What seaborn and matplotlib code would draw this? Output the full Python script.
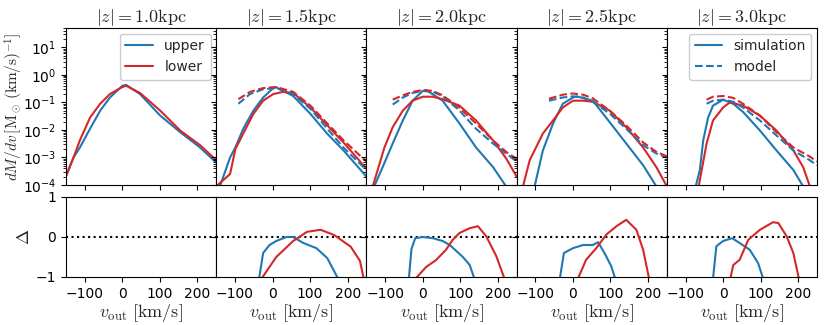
import matplotlib
matplotlib.use("Agg")
import matplotlib.pyplot as plt
import seaborn as sns

# ---------------- data ----------------
titles = [r"$|z| = 1.0{\rm kpc}$", r"$|z| = 1.5{\rm kpc}$", r"$|z| = 2.0{\rm kpc}$",
          r"$|z| = 2.5{\rm kpc}$", r"$|z| = 3.0{\rm kpc}$"]

# |z| = 1.0 kpc
z10_up_v = [-152, -130, -113, -86, -59, -33, 0, 10, 47, 101, 154, 207, 250]
z10_up_y = [1.8e-4, 1.0e-3, 2.3e-3, 1.1e-2, 5.0e-2, 1.5e-1, 4.0e-1, 4.3e-1, 2.0e-1, 3.3e-2, 8.3e-3, 2.3e-3, 6.5e-4]
z10_lo_v = [-152, -130, -113, -86, -59, -33, 0, 10, 47, 101, 154, 207, 250]
z10_lo_y = [1.8e-4, 1.0e-3, 4.2e-3, 2.8e-2, 8.9e-2, 2.0e-1, 3.6e-1, 4.0e-1, 2.2e-1, 5.0e-2, 9.5e-3, 2.8e-3, 8.0e-4]

# |z| = 1.5 kpc
z15_up_v = [-140, -113, -99, -78, -51, -25, 2, 10, 55, 101, 146, 189, 242, 250]
z15_up_y = [9e-5, 1.0e-3, 2.3e-3, 1.1e-2, 5.0e-2, 1.5e-1, 3.3e-1, 3.5e-1, 1.7e-1, 3.8e-2, 7.2e-3, 1.8e-3, 2.7e-4, 2.0e-4]
z15_lo_v = [-146, -113, -99, -78, -51, -25, 2, 28, 55, 101, 146, 189, 242, 250]
z15_lo_y = [1e-4, 2.5e-4, 2.0e-3, 7.4e-3, 3.8e-2, 1.15e-1, 2.0e-1, 2.4e-1, 2.2e-1, 6.5e-2, 1.45e-2, 3.5e-3, 5.2e-4, 4.0e-4]
z15_mod_v = [-91, -60, -25, 10, 55, 101, 146, 189, 250]
z15_upmod_y = [8.9e-2, 2.0e-1, 3.0e-1, 3.3e-1, 2.0e-1, 5.8e-2, 1.1e-2, 2.3e-3, 3.5e-4]
z15_lomod_y = [1.3e-1, 2.4e-1, 3.3e-1, 3.6e-1, 2.4e-1, 7.6e-2, 1.7e-2, 4.2e-3, 7.1e-4]
z15_dup_v = [-36, -25, -8, 10, 37, 55, 82, 117, 146, 175]
z15_dup = [-1.05, -0.4, -0.2, -0.1, 0.0, 0.0, -0.15, -0.28, -0.53, -1.05]
z15_dlo_v = [-30, 10, 55, 92, 128, 164, 208, 233, 243]
z15_dlo = [-1.05, -0.5, -0.1, 0.13, 0.18, 0.05, -0.24, -0.6, -1.05]

# |z| = 2.0 kpc
z20_up_v = [-129, -102, -80, -53, -27, 0, 10, 53, 98, 142, 187, 222]
z20_up_y = [9e-5, 6.3e-4, 3.2e-3, 2.2e-2, 1.15e-1, 2.6e-1, 2.75e-1, 1.15e-1, 1.7e-2, 2.3e-3, 4.5e-4, 9e-5]
z20_lo_v = [-133, -102, -80, -53, -27, 0, 27, 53, 98, 142, 187, 222, 245, 250]
z20_lo_y = [9e-5, 2.3e-3, 1.25e-2, 5.0e-2, 1.15e-1, 1.6e-1, 1.6e-1, 1.3e-1, 7.6e-2, 2.2e-2, 4.2e-3, 9.3e-4, 2.7e-4, 2.0e-4]
z20_mod_v = [-80, -53, -27, 0, 27, 53, 98, 142, 187, 222, 250]
z20_upmod_y = [8.3e-2, 1.5e-1, 2.2e-1, 2.6e-1, 2.4e-1, 1.7e-1, 5.0e-2, 1.1e-2, 3.2e-3, 1.4e-3, 7.1e-4]
z20_lomod_y = [1.25e-1, 1.8e-1, 2.4e-1, 2.8e-1, 2.6e-1, 1.8e-1, 6.3e-2, 1.7e-2, 4.2e-3, 1.6e-3, 8.9e-4]
z20_dup_v = [-37, -30, -20, 0, 27, 53, 72, 107, 125, 138]
z20_dup = [-1.05, -0.3, -0.03, 0.0, -0.03, -0.1, -0.2, -0.5, -0.7, -1.05]
z20_dlo_v = [-20, 9, 35, 62, 80, 98, 125, 147, 169, 196, 218]
z20_dlo = [-1.05, -0.75, -0.58, -0.32, -0.07, 0.1, 0.22, 0.27, 0.02, -0.48, -1.05]

# |z| = 2.5 kpc
z25_up_v = [-102, -80, -53, -27, 0, 10, 53, 98, 142, 187, 222]
z25_up_y = [9e-5, 1.8e-3, 1.7e-2, 8.9e-2, 1.5e-1, 1.65e-1, 1.15e-1, 1.9e-2, 3.2e-3, 5.2e-4, 9e-5]
z25_lo_v = [-133, -115, -80, -53, -27, 0, 27, 53, 98, 142, 187, 222, 250]
z25_lo_y = [9e-5, 8e-4, 7.4e-3, 2.2e-2, 6.5e-2, 1.15e-1, 1.15e-1, 1.05e-1, 5.0e-2, 1.25e-2, 2.3e-3, 4.5e-4, 9e-5]
z25_mod_v = [-64, -27, 0, 27, 53, 98, 142, 187, 222, 250]
z25_upmod_y = [1.15e-1, 1.5e-1, 1.65e-1, 1.5e-1, 1.05e-1, 3.9e-2, 1.1e-2, 2.8e-3, 1.4e-3, 1.0e-3]
z25_lomod_y = [1.35e-1, 1.9e-1, 2.1e-1, 1.9e-1, 1.4e-1, 5.0e-2, 1.45e-2, 3.5e-3, 1.6e-3, 1.1e-3]
z25_dup_v = [-35, -24, 0, 27, 53, 67, 84, 102, 113]
z25_dup = [-1.05, -0.4, -0.28, -0.2, -0.2, -0.13, -0.4, -0.73, -1.05]
z25_dlo_v = [13, 35, 62, 89, 116, 142, 169, 187, 203]
z25_dlo = [-1.05, -0.57, -0.28, 0.06, 0.27, 0.43, 0.18, -0.32, -1.05]

# |z| = 3.0 kpc
z30_up_v = [-73, -62, -53, -40, -27, 0, 27, 53, 98, 142, 187, 213]
z30_up_y = [9e-5, 3.5e-4, 4.2e-3, 2.8e-2, 7.6e-2, 1.25e-1, 8.9e-2, 4.5e-2, 9.5e-3, 1.8e-3, 3.5e-4, 9e-5]
z30_lo_v = [-65, -44, -27, 0, 18, 53, 98, 142, 187, 213, 231]
z30_lo_y = [9e-5, 3.2e-3, 2.2e-2, 6.5e-2, 1.0e-1, 7.6e-2, 3.3e-2, 9.5e-3, 1.8e-3, 4.5e-4, 9e-5]
z30_mod_v = [-44, -27, 0, 27, 53, 98, 142, 187, 231, 250]
z30_upmod_y = [8.9e-2, 1.15e-1, 1.25e-1, 1.05e-1, 6.5e-2, 2.2e-2, 6.3e-3, 1.8e-3, 7.9e-4, 5.2e-4]
z30_lomod_y = [1.25e-1, 1.6e-1, 1.7e-1, 1.45e-1, 8.9e-2, 3.3e-2, 8.3e-3, 2.3e-3, 1.07e-3, 7.1e-4]
z30_dup_v = [-27, -18, 0, 24, 44, 71, 93, 107]
z30_dup = [-1.05, -0.23, -0.1, -0.03, -0.15, -0.32, -0.65, -1.05]
z30_dlo_v = [19, 27, 44, 67, 98, 133, 147, 169, 187, 202]
z30_dlo = [-1.05, -0.7, -0.57, -0.07, 0.18, 0.37, 0.35, 0.02, -0.4, -1.05]

# ---------------- style ----------------
sns.set_style("ticks", rc={
    "axes.edgecolor": "black",
    "axes.linewidth": 1.4,
    "xtick.color": "black",
    "ytick.color": "black",
    "xtick.direction": "out",
    "ytick.direction": "out",
    "xtick.major.width": 1.2,
    "ytick.major.width": 1.2,
})
plt.rcParams["font.family"] = ["DejaVu Sans"]
plt.rcParams["mathtext.fontset"] = "cm"
plt.rcParams["font.size"] = 10

BLUE = "#1f77b4"
RED = "#d62728"
LW = 1.5

fig = plt.figure(figsize=(8.3, 3.25), dpi=100)
W, H = 830.0, 325.0
left0, right0 = 66, 817
pw = (right0 - left0) / 5.0

panels = [
    dict(up=(z10_up_v, z10_up_y), lo=(z10_lo_v, z10_lo_y), mod=None, dup=None, dlo=None),
    dict(up=(z15_up_v, z15_up_y), lo=(z15_lo_v, z15_lo_y),
         mod=(z15_mod_v, z15_upmod_y, z15_lomod_y),
         dup=(z15_dup_v, z15_dup), dlo=(z15_dlo_v, z15_dlo)),
    dict(up=(z20_up_v, z20_up_y), lo=(z20_lo_v, z20_lo_y),
         mod=(z20_mod_v, z20_upmod_y, z20_lomod_y),
         dup=(z20_dup_v, z20_dup), dlo=(z20_dlo_v, z20_dlo)),
    dict(up=(z25_up_v, z25_up_y), lo=(z25_lo_v, z25_lo_y),
         mod=(z25_mod_v, z25_upmod_y, z25_lomod_y),
         dup=(z25_dup_v, z25_dup), dlo=(z25_dlo_v, z25_dlo)),
    dict(up=(z30_up_v, z30_up_y), lo=(z30_lo_v, z30_lo_y),
         mod=(z30_mod_v, z30_upmod_y, z30_lomod_y),
         dup=(z30_dup_v, z30_dup), dlo=(z30_dlo_v, z30_dlo)),
]

for i, p in enumerate(panels):
    x0 = (left0 + i * pw) / W
    ax = fig.add_axes([x0, 1 - 185 / H, pw / W, (185 - 28) / H])
    axd = fig.add_axes([x0, 1 - 277 / H, pw / W, (277 - 197) / H])

    last = (i == 4)
    sns.lineplot(x=p["up"][0], y=p["up"][1], ax=ax, color=BLUE, lw=LW,
                 label=("upper" if i == 0 else ("simulation" if last else None)))
    sns.lineplot(x=p["lo"][0], y=p["lo"][1], ax=ax, color=RED, lw=LW,
                 label=("lower" if i == 0 else None))
    if p["mod"] is not None:
        mv, mu, ml = p["mod"]
        sns.lineplot(x=mv, y=mu, ax=ax, color=BLUE, lw=LW, linestyle="--",
                     label=("model" if last else None))
        sns.lineplot(x=mv, y=ml, ax=ax, color=RED, lw=LW, linestyle="--")
    ax.set_yscale("log")
    ax.set_ylim(1e-4, 50)
    ax.set_xlim(-150, 250)
    ax.set_xticks([-100, 0, 100, 200])
    ax.set_xticklabels([])
    ax.set_xlabel("")
    ax.set_title(titles[i], fontsize=13, pad=3)
    if i == 0:
        ax.set_ylabel(r"$dM/dv\,[{\rm M}_\odot\,({\rm km/s})^{-1}]$", fontsize=11)
        ax.yaxis.set_label_coords(-0.275, 0.5)
    else:
        ax.set_ylabel("")
        ax.tick_params(axis="y", which="both", labelleft=False)
    if i == 0 or last:
        ax.legend(loc="upper right", fontsize=10, handlelength=2.0,
                  borderaxespad=0.4, framealpha=1.0, edgecolor="#cccccc")
    else:
        lg = ax.get_legend()
        if lg is not None:
            lg.remove()

    # delta panel
    axd.axhline(0, color="black", lw=1.5, linestyle=":")
    if p["dup"] is not None:
        sns.lineplot(x=p["dup"][0], y=p["dup"][1], ax=axd, color=BLUE, lw=LW)
        sns.lineplot(x=p["dlo"][0], y=p["dlo"][1], ax=axd, color=RED, lw=LW)
    axd.set_xlim(-150, 250)
    axd.set_ylim(-1, 1)
    axd.set_xticks([-100, 0, 100, 200])
    axd.set_yticks([-1, 0, 1])
    axd.set_xlabel(r"$v_{\rm out}\ [{\rm km/s}]$", fontsize=13, labelpad=1)
    if i == 0:
        axd.set_ylabel(r"$\Delta$", fontsize=13)
        axd.yaxis.set_label_coords(-0.22, 0.5)
    else:
        axd.set_ylabel("")
        axd.tick_params(axis="y", labelleft=False)

fig.savefig("out.png", dpi=100)
